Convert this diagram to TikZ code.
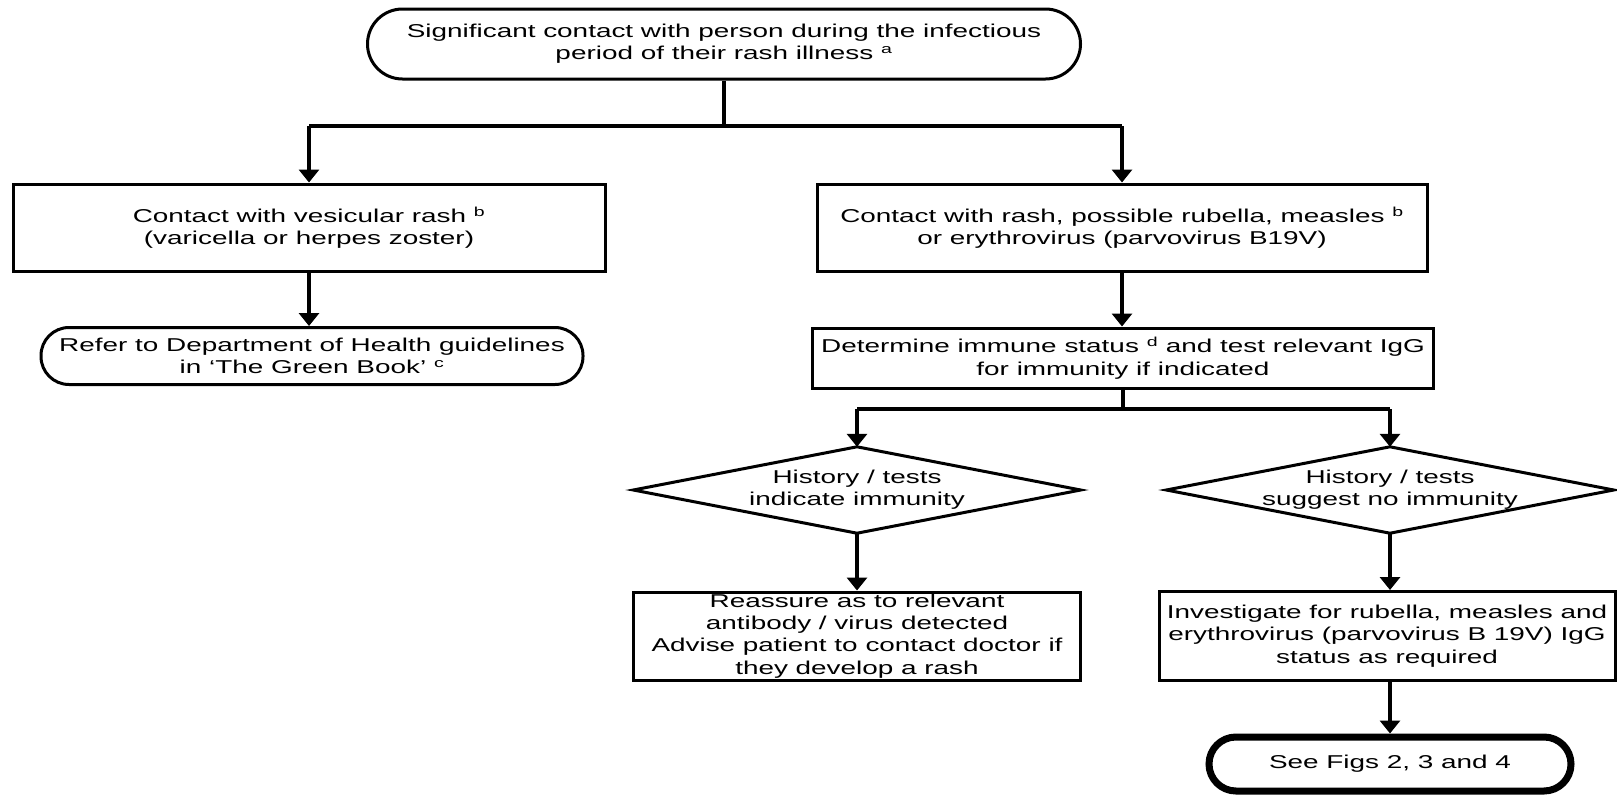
\documentclass[tikz,border=0pt]{standalone}
\usepackage{fontspec}
\setmainfont{Liberation Sans}[FakeStretch=1.5]
\usetikzlibrary{arrows.meta}
\begin{document}
\begin{tikzpicture}[x=1pt,y=-1pt,
  every node/.style={font=\fontsize{18.6pt}{22.3pt}\selectfont, inner sep=0pt, align=center},
  box/.style={draw, line width=3pt, rectangle},
  pill/.style={draw, line width=3pt, rectangle},
  dia/.style={rectangle},
  ln/.style={line width=3.5pt},
  arr/.style={line width=3.5pt, -{Triangle[length=13pt,width=20pt]}}]
\useasboundingbox (0,0) rectangle (1617,796);
\node[pill, rounded corners=35pt, minimum width=713pt, minimum height=70pt] (top) at (724,44)
  {Significant contact with person during the infectious\\period of their rash illness \textsuperscript{a}};
\node[box, minimum width=592pt, minimum height=87pt] (lbox) at (309,227.5)
  {Contact with vesicular rash \textsuperscript{b}\\(varicella or herpes zoster)};
\node[pill, rounded corners=28pt, minimum width=542pt, minimum height=57pt] (lpill) at (312,356)
  {Refer to Department of Health guidelines\\in ‘The Green Book’ \textsuperscript{c}};
\node[box, minimum width=610pt, minimum height=87pt] (rbox) at (1122,227.5)
  {Contact with rash, possible rubella, measles \textsuperscript{b}\\or erythrovirus (parvovirus B19V)};
\node[box, minimum width=621pt, minimum height=60pt] (det) at (1123,358)
  {Determine immune status \textsuperscript{d} and test relevant IgG\\for immunity if indicated};
\node[dia, minimum width=447pt, minimum height=86pt] (d1) at (857,490)
  {History / tests\\indicate immunity};
\node[dia, minimum width=447pt, minimum height=86pt] (d2) at (1390,490)
  {History / tests\\suggest no immunity};
\draw[line width=3pt] (d1.west) -- (d1.north) -- (d1.east) -- (d1.south) -- cycle;
\draw[line width=3pt] (d2.west) -- (d2.north) -- (d2.east) -- (d2.south) -- cycle;
\node[box, minimum width=447pt, minimum height=88pt] (rea) at (857,636)
  {Reassure as to relevant\\antibody / virus detected\\Advise patient to contact doctor if\\they develop a rash};
\node[box, minimum width=456pt, minimum height=89pt] (inv) at (1387,636)
  {Investigate for rubella, measles and\\erythrovirus (parvovirus B 19V) IgG\\status as required};
\node[pill, line width=7pt, rounded corners=27pt, minimum width=362pt, minimum height=54pt] (see) at (1390,764)
  {See Figs 2, 3 and 4};
% connectors
\coordinate (j1) at (724,126);
\coordinate (jl) at (309,126);
\coordinate (jr) at (1122,126);
\draw[ln] (top.south) -- (j1);
\draw[ln] (jl) -- (jr);
\draw[arr] (jl) -- (lbox.north);
\draw[arr] (jr) -- (rbox.north);
\draw[arr] (lbox.south) -- (lbox.south |- lpill.north);
\draw[arr] (rbox.south) -- (rbox.south |- det.north);
\coordinate (j2) at (1123,409);
\coordinate (j2l) at (857,409);
\coordinate (j2r) at (1390,409);
\draw[ln] (det.south) -- (j2);
\draw[ln] (j2l) -- (j2r);
\draw[arr] (j2l) -- (d1.north);
\draw[arr] (j2r) -- (d2.north);
\draw[arr] (d1.south) -- (rea.north);
\draw[arr] (d2.south) -- (d2.south |- inv.north);
\draw[arr] (d2.south |- inv.south) -- (see.north);
\end{tikzpicture}
\end{document}
